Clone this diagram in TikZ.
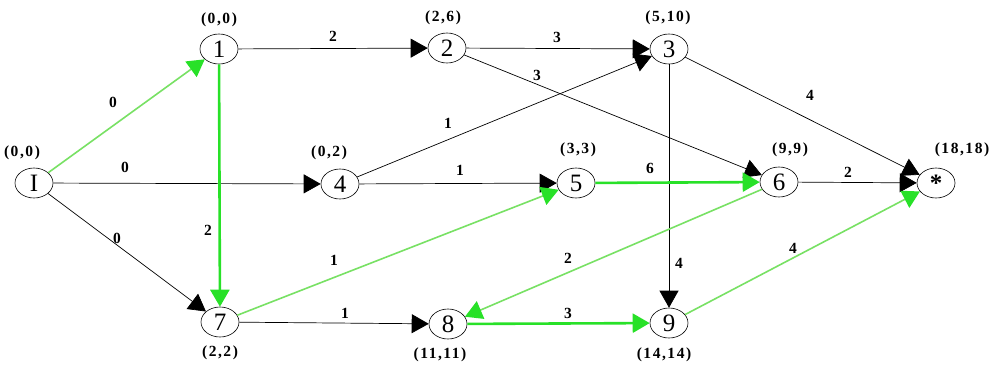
\documentclass[tikz,border=0pt]{standalone}
\usepackage{fontspec}
\setmainfont{Liberation Serif}
\usetikzlibrary{arrows.meta,shapes.geometric}
\definecolor{grnA}{RGB}{40,225,40}
\definecolor{grnB}{RGB}{120,225,100}
\begin{document}
\begin{tikzpicture}[x=1pt,y=-1pt,
  nd/.style={ellipse,draw,line width=0.6pt,minimum width=38pt,minimum height=30pt,inner sep=0pt,font=\fontsize{25}{25}\selectfont},
  lab/.style={font=\bfseries\fontsize{15.5}{15.5}\selectfont\addfontfeature{LetterSpace=10},inner sep=0pt},
  tip/.style={-{Triangle[length=17pt,width=19pt]}},
  blk/.style={draw=black,line width=0.7pt,tip},
  grnthick/.style={draw=grnA,line width=2.6pt,tip},
  grnthin/.style={draw=grnB,line width=1.6pt,-{Triangle[length=17pt,width=19pt,color=grnA]}}]
\useasboundingbox (0,0) rectangle (995,372);
\fill[white] (0,0) rectangle (995,372);

\node[nd] (I) at (34,183) {I};
\node[nd] (n1) at (219,49) {1};
\node[nd] (n2) at (447,48) {2};
\node[nd] (n3) at (669,49) {3};
\node[nd] (n4) at (340,184) {4};
\node[nd] (n5) at (576,183) {5};
\node[nd] (n6) at (779,182) {6};
\node[nd] (end) at (936,183) {\raisebox{-0.35ex}{\bfseries *}};
\node[nd] (n7) at (220,322) {7};
\node[nd] (n8) at (448,324) {8};
\node[nd] (n9) at (669,323) {9};

% time labels
\node[lab] (tI) at (22,153) {(0,0)};
\node[lab] (t1) at (219,20) {(0,0)};
\node[lab] (t2) at (443,18) {(2,6)};
\node[lab] (t3) at (668,18) {(5,10)};
\node[lab] (t4) at (329,153) {(0,2)};
\node[lab] (t5) at (578,150) {(3,3)};
\node[lab] (t6) at (790,150) {(9,9)};
\node[lab] (tend) at (962,150) {(18,18)};
\node[lab] (t7) at (220,353) {(2,2)};
\node[lab] (t8) at (440,355) {(11,11)};
\node[lab] (t9) at (664,355) {(14,14)};

% edges
\draw[blk] (I) -- (n4);
\draw[blk] (I) -- (n7);
\draw[blk] (n1) -- (n2);
\draw[blk] (n2) -- (n3);
\draw[blk] (n2) -- (n6);
\draw[blk] (n4) -- (n3);
\draw[blk] (n4) -- (n5);
\draw[blk] (n3) -- (n9);
\draw[blk] (n3) -- (end);
\draw[blk] (n6) -- (end);
\draw[blk] (n7) -- (n8);
\draw[grnthin] (I) -- (n1);
\draw[grnthick] (n1) -- (n7);
\draw[grnthin] (n7) -- (n5);
\draw[grnthick] (n5) -- (n6);
\draw[grnthin] (n6) -- (n8);
\draw[grnthick] (n8) -- (n9);
\draw[grnthin] (n9) -- (end);

% edge labels
\node[lab] (eI1) at (113,102) {0};
\node[lab] (eI4) at (125,167) {0};
\node[lab] (eI7) at (117,238) {0};
\node[lab] (e17) at (208,230) {2};
\node[lab] (e12) at (333,36) {2};
\node[lab] (e23) at (557,37) {3};
\node[lab] (e26) at (537,75) {3};
\node[lab] (e43) at (448,123) {1};
\node[lab] (e45) at (460,170) {1};
\node[lab] (e56) at (650,168) {6};
\node[lab] (e75) at (334,260) {1};
\node[lab] (e78) at (345,313) {1};
\node[lab] (e68) at (568,258) {2};
\node[lab] (e89) at (568,313) {3};
\node[lab] (e39) at (679,263) {4};
\node[lab] (e3e) at (810,95) {4};
\node[lab] (e6e) at (848,172) {2};
\node[lab] (e9e) at (793,248) {4};
\end{tikzpicture}
\end{document}
